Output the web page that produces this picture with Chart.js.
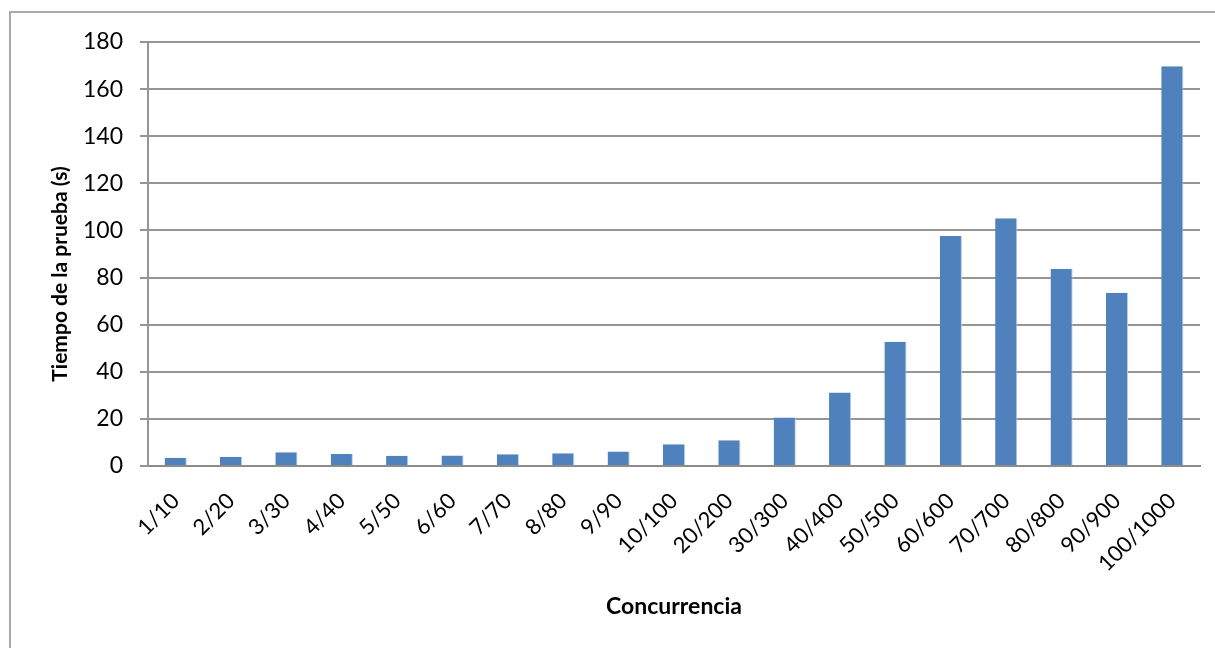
<!DOCTYPE html>
<html>
<head>
<meta charset="utf-8">
<script src="https://cdn.jsdelivr.net/npm/chart.js@4/dist/chart.umd.min.js"></script>
<style>
  html, body { margin: 0; padding: 0; background: #ffffff; overflow: hidden; }
  #wrap { position: relative; width: 1215px; height: 648px; }
  #frame { position: absolute; left: 9px; top: 11px; width: 1400px; height: 900px;
           border: 2px solid #a9a9a9; box-sizing: border-box; pointer-events: none; }
  canvas { position: absolute; left: 0; top: 0; }
</style>
</head>
<body>
<div id="wrap">
  <canvas id="chart" width="1215" height="648"></canvas>
  <div id="frame"></div>
</div>
<script>
// Concurrency levels (users / requests)
const categories = ['1/10', '2/20', '3/30', '4/40', '5/50', '6/60', '7/70', '8/80', '9/90',
  '10/100', '20/200', '30/300', '40/400', '50/500', '60/600', '70/700', '80/800', '90/900', '100/1000'];

// Total test time in seconds for each concurrency level
const testTimes = [3.5, 3.9, 5.8, 5.1, 4.4, 4.5, 5.0, 5.4, 6.2,
  9.2, 10.9, 20.6, 31.2, 52.8, 97.6, 105.2, 83.6, 73.5, 169.7];

// Value axis ticks
const yTicks = [0, 20, 40, 60, 80, 100, 120, 140, 160, 180];

const yTitle = 'Tiempo de la prueba (s)';
const xTitle = 'Concurrencia';

const FONT = 'Lato, "Open Sans", sans-serif';

// Vertical axis title, drawn a little below the plot's middle
const yTitlePlugin = {
  id: 'yTitle',
  afterDraw(chart) {
    const ctx = chart.ctx;
    ctx.save();
    ctx.translate(60, 274);
    ctx.rotate(-Math.PI / 2);
    ctx.font = 'bold 21px ' + FONT;
    ctx.fillStyle = '#000000';
    ctx.textAlign = 'center';
    ctx.textBaseline = 'middle';
    ctx.fillText(yTitle, 0, 0);
    ctx.restore();
  }
};

new Chart(document.getElementById('chart'), {
  type: 'bar',
  data: {
    labels: categories,
    datasets: [{
      label: yTitle,
      data: testTimes,
      backgroundColor: '#4f81bd',
      borderColor: '#b9cde5',
      borderWidth: { left: 0, right: 1, top: 0, bottom: 0 },
      barPercentage: 0.4,
      categoryPercentage: 1.0
    }]
  },
  plugins: [yTitlePlugin],
  options: {
    responsive: false,
    animation: false,
    devicePixelRatio: 1,
    layout: { padding: { left: 10, right: 15, top: 42, bottom: 0 } },
    plugins: {
      legend: { display: false },
      tooltip: { enabled: false }
    },
    scales: {
      x: {
        grid: { display: true, drawOnChartArea: false, drawTicks: false },
        border: { display: true, color: '#8c8c8c', width: 2 },
        ticks: {
          autoSkip: false,
          maxRotation: 45,
          minRotation: 45,
          padding: 22,
          color: '#000000',
          font: { family: FONT, size: 22 }
        },
        title: {
          display: true,
          text: xTitle,
          color: '#000000',
          font: { family: FONT, size: 23, weight: 'bold' },
          padding: { top: 0, bottom: 28 }
        },
        afterFit(scale) { scale.height = 182; }
      },
      y: {
        min: 0,
        max: 180,
        afterBuildTicks(scale) { scale.ticks = yTicks.map(v => ({ value: v })); },
        grid: {
          color: '#959595',
          lineWidth: 2,
          tickLength: 8,
          drawTicks: true
        },
        border: { display: true, color: '#959595', width: 2 },
        ticks: {
          padding: 17,
          color: '#000000',
          font: { family: FONT, size: 23 }
        },
        title: { display: false },
        afterFit(scale) { scale.width = 138; }
      }
    }
  }
});
</script>
</body>
</html>
